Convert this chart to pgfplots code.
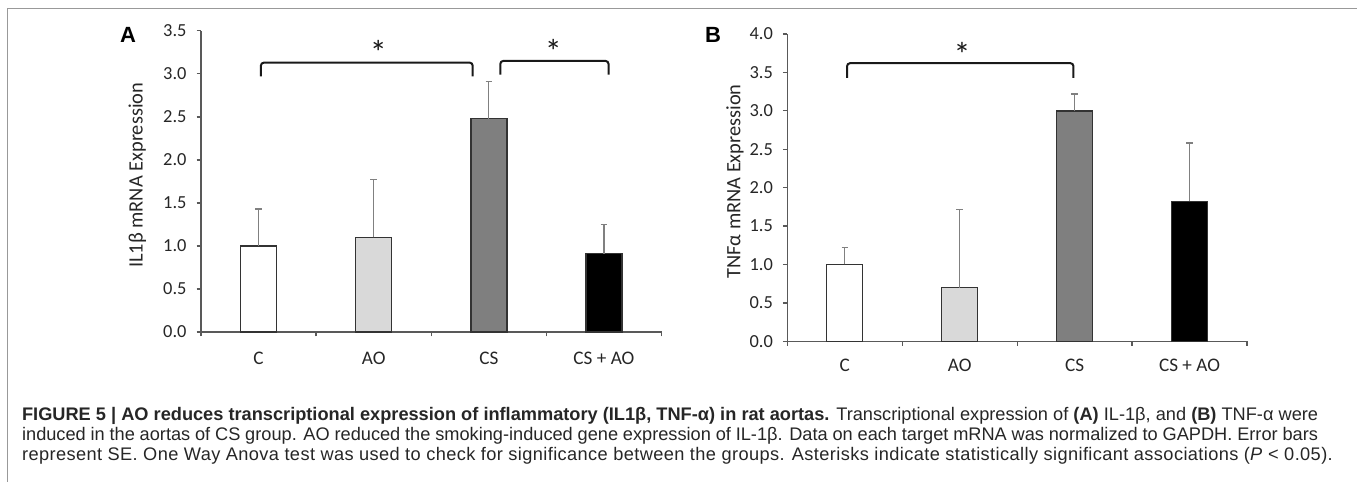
\documentclass[border=0pt]{standalone}
\usepackage{pgfplots}
\pgfplotsset{compat=1.18}
\usepackage{fontspec}
\setmainfont{Liberation Sans}
\newfontfamily\carlito{Carlito}
\newfontfamily\capfont{Liberation Sans}
\definecolor{axcol}{HTML}{595959}
\definecolor{errcol}{HTML}{808080}
\definecolor{lgray}{HTML}{D9D9D9}
\definecolor{mgray}{HTML}{7F7F7F}

% 1 px of the reference = 0.5 pt
\pgfplotsset{
  exbar/.style={
    scale only axis, clip=false,
    axis lines*=left, axis line style={-, draw=axcol, line width=0.65pt},
    xmin=0.5, xmax=4.5, ymin=0,
    xtick={1,2,3,4}, xticklabels={C,AO,CS,CS + AO},
    minor xtick={0.5,1.5,2.5,3.5,4.5},
    major x tick style={draw=none},
    minor x tick style={draw=axcol, line width=0.65pt},
    y tick style={draw=axcol, line width=0.65pt},
    tick align=outside, major tick length=2.2pt, minor tick length=2.2pt,
    yticklabel style={font=\carlito\fontsize{9.2}{10}\selectfont, text=black!85, xshift=-1.5pt},
    xticklabel style={font=\carlito\fontsize{9.6}{10}\selectfont, text=black!85},
    /pgf/number format/assume math mode=true,
    /pgf/number format/fixed, /pgf/number format/fixed zerofill,
    /pgf/number format/precision=1,
    ybar, bar width=18pt, bar shift=0pt,
    every axis plot/.append style={draw=black!80, line width=0.7pt},
    error bars/y dir=plus, error bars/y explicit,
    error bars/error bar style={draw=errcol, line width=0.6pt},
    error bars/error mark options={rotate=90, mark size=1.6pt, draw=errcol, line width=0.6pt},
  },
}
\tikzset{
  brk/.style={draw=black!90, line width=1pt, rounded corners=1.5pt},
  star/.style={font=\carlito\fontsize{17}{17}\selectfont, text=black!90},
  ylab/.style={rotate=90, anchor=center, font=\carlito\fontsize{10.2}{11}\selectfont, text=black!85},
}

\begin{document}
\begin{tikzpicture}
\useasboundingbox (0,0) rectangle (678.5pt,-241pt);
\draw[gray!80, line width=0.7pt] (3.65pt,-241pt) -- (3.65pt,-4.15pt) -- (678.5pt,-4.15pt);

\node[font=\bfseries\fontsize{11}{12}\selectfont] at (64pt,-17.5pt) {A};
\node[font=\bfseries\fontsize{11}{12}\selectfont] at (356.5pt,-17.5pt) {B};

% Panel A: IL1beta
\begin{axis}[exbar, at={(100.5pt,-166pt)}, anchor=origin,
  width=230.25pt, height=150.6pt, ymax=3.5, ytick={0,0.5,...,3.5},
  xticklabel style={yshift=-4.4pt},
  ylabel={IL1β mRNA Expression},
  every axis y label/.style={at={(axis description cs:-0.138,0.52)}, ylab}]
\addplot[fill=white] coordinates {(1,1.00) +- (0,0.43)};
\addplot[fill=lgray] coordinates {(2,1.10) +- (0,0.67)};
\addplot[fill=mgray] coordinates {(3,2.48) +- (0,0.43)};
\addplot[fill=black] coordinates {(4,0.91) +- (0,0.34)};
\draw[brk] (axis cs:1.02,2.97) -- (axis cs:1.02,3.13) -- (axis cs:2.86,3.13) -- (axis cs:2.86,2.97);
\draw[brk] (axis cs:3.10,2.99) -- (axis cs:3.10,3.15) -- (axis cs:4.04,3.15) -- (axis cs:4.04,2.99);
\node[star] at (axis cs:2.04,3.25) {*};
\node[star] at (axis cs:3.56,3.26) {*};
\end{axis}

% Panel B: TNFalpha
\begin{axis}[exbar, at={(393.65pt,-170.65pt)}, anchor=origin,
  width=229.85pt, height=153.65pt, ymax=4.0, ytick={0,0.5,...,4.0},
  xticklabel style={yshift=-3pt},
  ylabel={TNFα mRNA Expression},
  every axis y label/.style={at={(axis description cs:-0.114,0.52)}, ylab}]
\addplot[fill=white] coordinates {(1,1.00) +- (0,0.22)};
\addplot[fill=lgray] coordinates {(2,0.70) +- (0,1.02)};
\addplot[fill=mgray] coordinates {(3,3.00) +- (0,0.22)};
\addplot[fill=black] coordinates {(4,1.82) +- (0,0.76)};
\draw[brk] (axis cs:1.02,3.43) -- (axis cs:1.02,3.62) -- (axis cs:2.99,3.62) -- (axis cs:2.99,3.43);
\node[star] at (axis cs:2.02,3.74) {*};
\end{axis}

% caption
\begin{scope}[every node/.style={anchor=base west, inner sep=0pt, font=\capfont\fontsize{9.1}{10}\selectfont, text=black!85}]
\node at (10.85pt,-210pt) {\makebox[648pt][s]{\textbf{FIGURE 5 | AO reduces transcriptional expression of inflammatory (IL1β, TNF-α) in rat aortas.} Transcriptional expression of \textbf{(A)} IL-1β, and \textbf{(B)} TNF-α were}};
\node at (10.85pt,-220.15pt) {\makebox[648pt][s]{induced in the aortas of CS group. AO reduced the smoking-induced gene expression of IL-1β. Data on each target mRNA was normalized to GAPDH. Error bars}};
\node at (10.85pt,-230.3pt) {\addfontfeature{LetterSpace=2.2}represent SE. One Way Anova test was used to check for significance between the groups. Asterisks indicate statistically significant associations (\textit{P} < 0.05).};
\end{scope}
\end{tikzpicture}
\end{document}
